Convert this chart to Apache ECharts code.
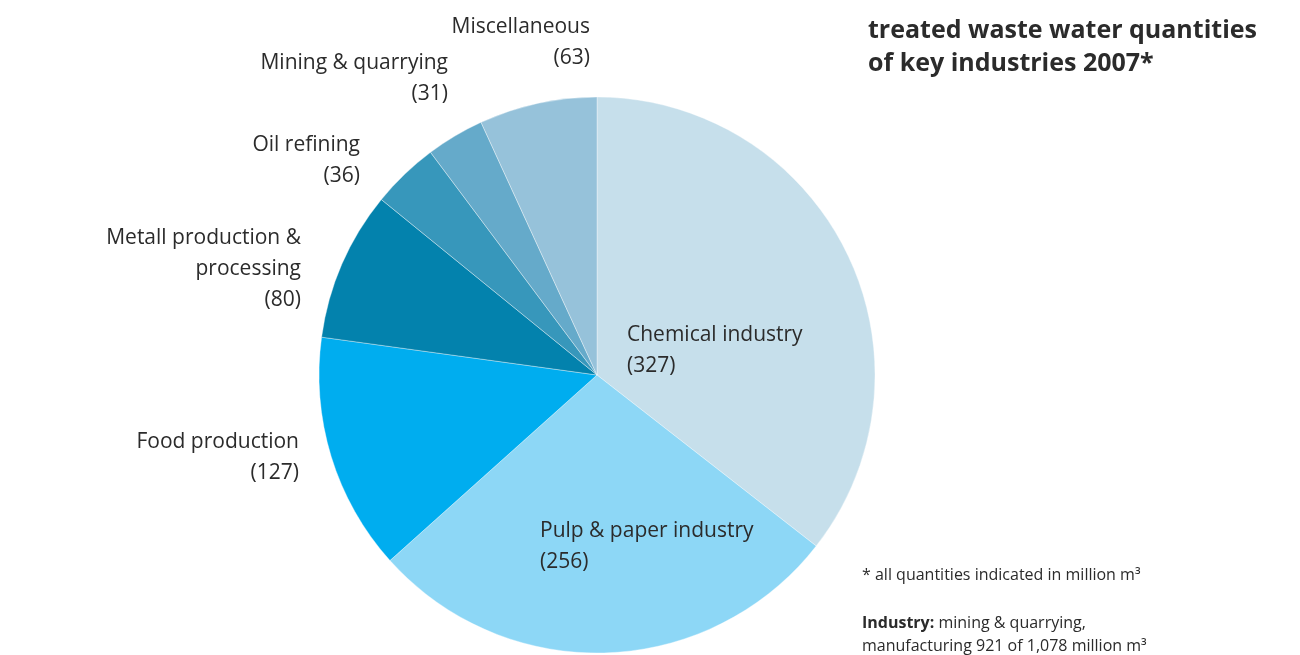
<!DOCTYPE html>
<html>
<head>
<meta charset="utf-8">
<script src="https://cdn.jsdelivr.net/npm/echarts@6/dist/echarts.min.js"></script>
<style>html,body{margin:0;padding:0;background:#fff}#c{width:1300px;height:655px}</style>
</head>
<body>
<div id="c"></div>
<script>
var categories = ['Chemical industry', 'Pulp & paper industry', 'Food production', 'Metall production &\nprocessing', 'Oil refining', 'Mining & quarrying', 'Miscellaneous'];
var values = [327, 256, 127, 80, 36, 31, 63];
var colors = ['#c6dfeb', '#8dd7f6', '#00adef', '#0382ad', '#3797bb', '#65aaca', '#96c2da'];
// label anchor [x, y(center of block), align]
var labelPos = [[627, 351, 'left'], [540, 547, 'left'], [299, 458, 'right'], [301, 269, 'right'], [360, 161, 'right'], [448, 79, 'right'], [590, 43, 'right']];

var chart = echarts.init(document.getElementById('c'));
var FONT = '"Open Sans", "Noto Sans", sans-serif';
chart.setOption({
  animation: false,
  backgroundColor: '#ffffff',
  title: {
    text: 'treated waste water quantities\nof key industries 2007*',
    left: 863, top: 9,
    textStyle: { fontFamily: FONT, fontSize: 25, fontWeight: 'bold', color: '#2b2b2b', lineHeight: 33 }
  },
  graphic: [
    { type: 'text', left: 862, top: 567, style: { text: '* all quantities indicated in million m³', font: '16px ' + FONT, fill: '#2b2b2b' } },
    { type: 'text', left: 862, top: 612, style: {
        text: '{b|Industry:} mining & quarrying,\nmanufacturing 921 of 1,078 million m³',
        fill: '#2b2b2b', font: '16px ' + FONT, lineHeight: 23,
        rich: { b: { fontWeight: 'bold', fontFamily: FONT, fontSize: 16, fill: '#2b2b2b' } }
    } }
  ],
  series: [{
    type: 'pie',
    center: [597, 375],
    radius: [0, 278],
    startAngle: 90,
    clockwise: true,
    avoidLabelOverlap: false,
    itemStyle: { borderColor: 'rgba(255,255,255,0.6)', borderWidth: 0.6 },
    label: {
      show: true,
      position: 'outside',
      formatter: function (p) { return p.name + '\n(' + p.value + ')'; },
      fontFamily: FONT, fontSize: 21, lineHeight: 31, color: '#2b2b2b'
    },
    labelLine: { show: false },
    labelLayout: function (params) {
      var p = labelPos[params.dataIndex];
      return { x: p[0], y: p[1], align: p[2], verticalAlign: 'middle', hideOverlap: false };
    },
    data: categories.map(function (c, i) {
      return { name: c, value: values[i], itemStyle: { color: colors[i] }, label: { align: labelPos[i][2] } };
    })
  }]
});
</script>
</body>
</html>
